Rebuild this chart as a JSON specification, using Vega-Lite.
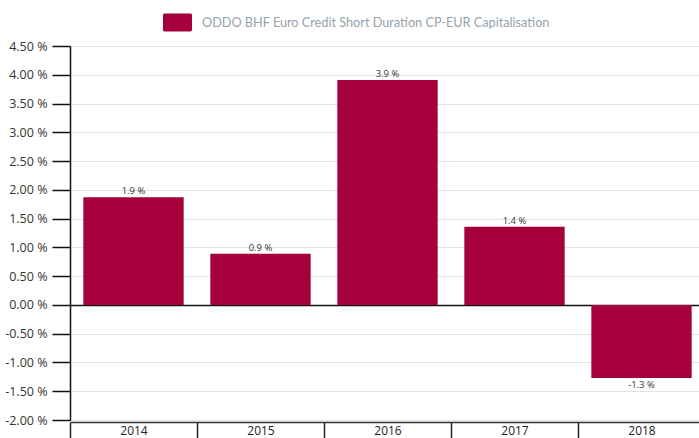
{
  "$schema": "https://vega.github.io/schema/vega-lite/v6.json",
  "width": 635,
  "height": 374,
  "autosize": {"type": "none"},
  "padding": {"left": 70, "top": 46, "right": 0, "bottom": 30},
  "background": "white",
  "config": {"view": {"stroke": null}, "font": "Open Sans"},
  "data": {"values": [
    {"year": "2014", "perf": 1.87, "label": "1.9 %", "series": "ODDO BHF Euro Credit Short Duration CP-EUR Capitalisation"},
    {"year": "2015", "perf": 0.89, "label": "0.9 %", "series": "ODDO BHF Euro Credit Short Duration CP-EUR Capitalisation"},
    {"year": "2016", "perf": 3.91, "label": "3.9 %", "series": "ODDO BHF Euro Credit Short Duration CP-EUR Capitalisation"},
    {"year": "2017", "perf": 1.36, "label": "1.4 %", "series": "ODDO BHF Euro Credit Short Duration CP-EUR Capitalisation"},
    {"year": "2018", "perf": -1.27, "label": "-1.3 %", "series": "ODDO BHF Euro Credit Short Duration CP-EUR Capitalisation"}
  ]},
  "encoding": {
    "x": {"field": "year", "type": "ordinal",
      "scale": {"paddingInner": 0, "paddingOuter": 0},
      "axis": {"title": null, "labelAngle": 0, "tickBand": "extent", "tickSize": 16, "tickColor": "#222", "tickWidth": 1.5,
        "domainColor": "#333", "domainWidth": 1.5, "labelPadding": -13, "labelFontSize": 12, "labelColor": "#222", "offset": 2}},
    "y": {"field": "perf", "type": "quantitative",
      "scale": {"domain": [-2, 4.5], "nice": false, "zero": false},
      "axis": {"title": null, "values": [-2, -1.5, -1, -0.5, 0, 0.5, 1, 1.5, 2, 2.5, 3, 3.5, 4, 4.5],
        "labelExpr": "(datum.value < 0 ? '-' : '') + format(abs(datum.value), '.2f') + ' %'",
        "labelOverlap": false, "labelBound": false,
        "tickSize": 18, "tickColor": "#111", "tickWidth": 1.5, "domainColor": "#111", "domainWidth": 1.5,
        "grid": true,
        "gridColor": {"condition": {"test": "datum.value === 0", "value": "#111"}, "value": "#e2e2e2"},
        "gridWidth": {"condition": {"test": "datum.value === 0", "value": 1.5}, "value": 1},
        "labelFontSize": 12.5, "labelColor": "#333", "labelPadding": 5}}
  },
  "layer": [
    {
      "mark": {"type": "bar", "width": {"band": 0.79}},
      "encoding": {
        "color": {"field": "series", "type": "nominal",
          "scale": {"range": ["#a6003c"]},
          "legend": {"title": null, "orient": "none", "legendX": 93, "legendY": -38,
            "symbolType": "M-0.9,-0.62H0.9A0.1,0.1 0 0 1 1,-0.52V0.52A0.1,0.1 0 0 1 0.9,0.62H-0.9A0.1,0.1 0 0 1 -1,0.52V-0.52A0.1,0.1 0 0 1 -0.9,-0.62Z",
            "symbolSize": 841, "symbolStrokeWidth": 0, "symbolOpacity": 1,
            "labelFontSize": 12.7, "labelColor": "#95a2ac", "labelFont": "Lato", "labelOffset": 10, "labelLimit": 0, "padding": 0}}
      }
    },
    {
      "transform": [{"filter": "datum.perf >= 0"}],
      "mark": {"type": "text", "baseline": "bottom", "dy": -1, "fontSize": 9.5, "color": "#333"},
      "encoding": {"text": {"field": "label"}}
    },
    {
      "transform": [{"filter": "datum.perf < 0"}],
      "mark": {"type": "text", "baseline": "top", "dy": 2, "fontSize": 9.5, "color": "#333"},
      "encoding": {"text": {"field": "label"}}
    }
  ]
}
